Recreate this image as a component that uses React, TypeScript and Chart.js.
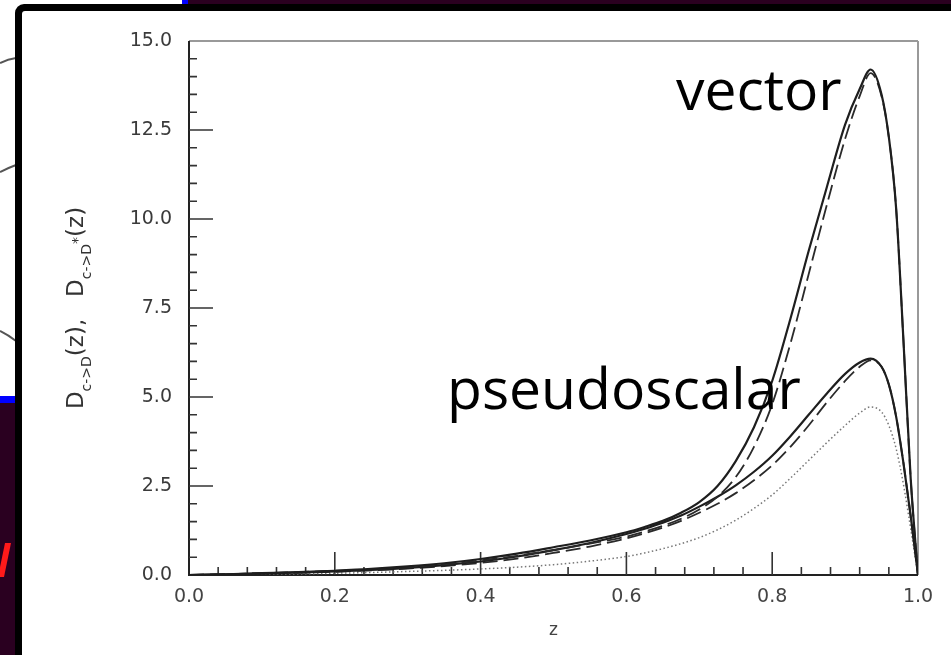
import React, { useEffect, useRef } from "react";
import { Chart, registerables } from "chart.js";

Chart.register(...registerables);

// Momentum fraction grid shared by every fragmentation curve
const zValues = [
  0, 0.05, 0.1, 0.15, 0.2, 0.25, 0.3, 0.35, 0.4, 0.45, 0.5, 0.55, 0.6, 0.625, 0.65,
  0.675, 0.7, 0.725, 0.75, 0.775, 0.8, 0.825, 0.85, 0.875, 0.9, 0.92, 0.935, 0.95,
  0.96, 0.97, 0.98, 0.99, 1.0,
];

// D_{c->D*}(z): vector meson
const vectorSolid = [
  0, 0.02, 0.05, 0.08, 0.12, 0.17, 0.24, 0.33, 0.45, 0.6, 0.78, 0.97, 1.2, 1.35, 1.52,
  1.75, 2.05, 2.5, 3.2, 4.15, 5.45, 7.2, 9.1, 10.9, 12.65, 13.65, 14.2, 13.5,
  12.3, 10.3, 6.6, 2.7, 0,
];
const vectorDashed = [
  0, 0.02, 0.05, 0.08, 0.12, 0.16, 0.22, 0.3, 0.41, 0.54, 0.7, 0.88, 1.08, 1.22, 1.38,
  1.58, 1.84, 2.2, 2.75, 3.6, 4.8, 6.5, 8.45, 10.4, 12.25, 13.45, 14.1, 13.45,
  12.3, 10.3, 6.6, 2.7, 0,
];

// D_{c->D}(z): pseudoscalar meson
const pseudoSolid = [
  0, 0.02, 0.04, 0.07, 0.1, 0.14, 0.2, 0.28, 0.38, 0.52, 0.7, 0.9, 1.15, 1.3, 1.47,
  1.67, 1.92, 2.2, 2.52, 2.9, 3.35, 3.9, 4.5, 5.1, 5.65, 5.97, 6.08, 5.85,
  5.35, 4.45, 3.15, 1.65, 0,
];
const pseudoDashed = [
  0, 0.02, 0.04, 0.06, 0.09, 0.13, 0.18, 0.25, 0.34, 0.46, 0.62, 0.8, 1.03, 1.17, 1.33,
  1.52, 1.75, 2.0, 2.3, 2.66, 3.08, 3.6, 4.2, 4.85, 5.45, 5.85, 6.03, 5.85,
  5.35, 4.45, 3.15, 1.65, 0,
];
const pseudoDotted = [
  0, 0.01, 0.02, 0.03, 0.05, 0.07, 0.1, 0.13, 0.17, 0.22, 0.29, 0.39, 0.52, 0.62, 0.74,
  0.88, 1.05, 1.27, 1.54, 1.87, 2.25, 2.72, 3.22, 3.72, 4.2, 4.55, 4.72, 4.58,
  4.2, 3.55, 2.55, 1.3, 0,
];

const xTickStep = 0.2;
const xMinorStep = 0.04;
const yTickStep = 2.5;
const yMinorStep = 0.5;

const TICK_FONT = "DejaVu Sans";

const toPoints = (ys: number[]) => zValues.map((z, i) => ({ x: z, y: ys[i] }));

// Slide backdrop, black panel frame and a few stray marks around the figure
const backdropPlugin = {
  id: "backdrop",
  beforeDraw(chart: any) {
    const ctx = chart.ctx as CanvasRenderingContext2D;
    const W = chart.width;
    const H = chart.height;
    ctx.save();
    ctx.fillStyle = "#2a0020";
    ctx.fillRect(0, 0, W, H);
    ctx.fillStyle = "#ffffff";
    ctx.fillRect(0, 0, 182, 397);
    ctx.fillStyle = "#0000ff";
    ctx.fillRect(182, 0, 6, 5);
    ctx.fillRect(0, 396, 16, 7);

    // partial grey arcs peeking out on the left
    ctx.strokeStyle = "#555";
    ctx.lineWidth = 2;
    ctx.beginPath();
    ctx.moveTo(0, 63);
    ctx.quadraticCurveTo(8, 59, 16, 58);
    ctx.moveTo(0, 172);
    ctx.quadraticCurveTo(8, 168, 16, 165);
    ctx.moveTo(0, 331);
    ctx.quadraticCurveTo(8, 335, 16, 341);
    ctx.stroke();

    // red glyph fragment
    ctx.fillStyle = "#ff1a1a";
    ctx.beginPath();
    ctx.moveTo(5, 543);
    ctx.lineTo(11, 543);
    ctx.lineTo(4, 577);
    ctx.lineTo(-2, 577);
    ctx.closePath();
    ctx.fill();

    // black frame and white panel
    ctx.fillStyle = "#000000";
    ctx.beginPath();
    ctx.roundRect(15, 4, W + 40, H + 40, 9);
    ctx.fill();
    ctx.fillStyle = "#ffffff";
    ctx.beginPath();
    ctx.roundRect(22, 11, W + 40, H + 40, 3);
    ctx.fill();
    ctx.restore();
  },
};

// Box, inward tick marks, axis title with subscripts and curve labels
const framePlugin = {
  id: "frame",
  beforeDatasetsDraw(chart: any) {
    const ctx = chart.ctx as CanvasRenderingContext2D;
    const { left, right, top, bottom } = chart.chartArea;
    const xs = chart.scales.x;
    const ys = chart.scales.y;
    ctx.save();
    ctx.lineCap = "butt";

    ctx.strokeStyle = "#777";
    ctx.lineWidth = 1.5;
    ctx.beginPath();
    ctx.moveTo(left, top);
    ctx.lineTo(right, top);
    ctx.stroke();
    ctx.strokeStyle = "#999";
    ctx.lineWidth = 2;
    ctx.beginPath();
    ctx.moveTo(right, top);
    ctx.lineTo(right, bottom);
    ctx.stroke();

    ctx.strokeStyle = "#222";
    ctx.lineWidth = 2;
    ctx.beginPath();
    ctx.moveTo(left, top);
    ctx.lineTo(left, bottom);
    ctx.lineTo(right, bottom);
    ctx.stroke();

    ctx.lineWidth = 1.6;
    ctx.strokeStyle = "#333";
    ctx.beginPath();
    const yMin = ys.min as number;
    const yMax = ys.max as number;
    const nY = Math.round((yMax - yMin) / yMinorStep);
    for (let i = 1; i < nY; i++) {
      const v = yMin + i * yMinorStep;
      const py = ys.getPixelForValue(v);
      const major = Math.abs(v / yTickStep - Math.round(v / yTickStep)) < 1e-6;
      ctx.moveTo(left, py);
      ctx.lineTo(left + (major ? 24 : 8), py);
    }
    const xMin = xs.min as number;
    const xMax = xs.max as number;
    const nX = Math.round((xMax - xMin) / xMinorStep);
    for (let i = 1; i < nX; i++) {
      const v = xMin + i * xMinorStep;
      const px = xs.getPixelForValue(v);
      const major = Math.abs(v / xTickStep - Math.round(v / xTickStep)) < 1e-6;
      ctx.moveTo(px, bottom);
      ctx.lineTo(px, bottom - (major ? 23 : 8));
    }
    ctx.stroke();
    ctx.restore();
  },
  afterDatasetsDraw(chart: any) {
    const ctx = chart.ctx as CanvasRenderingContext2D;
    const xs = chart.scales.x;
    const ys = chart.scales.y;
    ctx.save();

    // rotated y-axis title: D_{c->D}(z),  D_{c->D*}(z)
    const big = `23px "${TICK_FONT}"`;
    const small = `14px "${TICK_FONT}"`;
    const parts: { t: string; f: string; dy: number }[] = [
      { t: "D", f: big, dy: 0 },
      { t: "c->D", f: small, dy: 8 },
      { t: "(z),   ", f: big, dy: 0 },
      { t: "D", f: big, dy: 0 },
      { t: "c->D", f: small, dy: 8 },
      { t: "*", f: small, dy: -1 },
      { t: "(z)", f: big, dy: 0 },
    ];
    let total = 0;
    const widths = parts.map((p) => {
      ctx.font = p.f;
      const w = ctx.measureText(p.t).width;
      total += w;
      return w;
    });
    const centerY = (ys.top + ys.bottom) / 2;
    ctx.translate(74, centerY);
    ctx.rotate(-Math.PI / 2);
    ctx.fillStyle = "#333";
    ctx.textBaseline = "alphabetic";
    ctx.textAlign = "left";
    let cx = -total / 2;
    parts.forEach((p, i) => {
      ctx.font = p.f;
      ctx.fillText(p.t, cx, 9 + p.dy);
      cx += widths[i];
    });
    ctx.setTransform(1, 0, 0, 1, 0, 0);

    // curve labels
    ctx.fillStyle = "#000";
    ctx.font = `57px "Open Sans"`;
    ctx.textAlign = "left";
    ctx.textBaseline = "alphabetic";
    ctx.fillText("vector", xs.getPixelForValue(0.668), ys.getPixelForValue(13.05));
    ctx.fillText("pseudoscalar", xs.getPixelForValue(0.354), ys.getPixelForValue(4.66));
    ctx.restore();
  },
};

export default function App() {
  const canvasRef = useRef<HTMLCanvasElement | null>(null);

  useEffect(() => {
    if (!canvasRef.current) return;
    const solid = { borderColor: "#1e1e1e", borderWidth: 2.2, borderDash: [] as number[] };
    const dashed = { borderColor: "#2a2a2a", borderWidth: 1.8, borderDash: [15, 6] };
    const dotted = { borderColor: "#777", borderWidth: 1.5, borderDash: [1.5, 2.5] };
    const chart = new Chart(canvasRef.current, {
      type: "line",
      data: {
        datasets: [
          { label: "vector", data: toPoints(vectorSolid), ...solid },
          { label: "vector (dashed)", data: toPoints(vectorDashed), ...dashed },
          { label: "pseudoscalar", data: toPoints(pseudoSolid), ...solid },
          { label: "pseudoscalar (dashed)", data: toPoints(pseudoDashed), ...dashed },
          { label: "pseudoscalar (dotted)", data: toPoints(pseudoDotted), ...dotted },
        ],
      },
      options: {
        animation: false,
        responsive: false,
        layout: { padding: { left: 0, top: 41, right: 33, bottom: 0 } },
        elements: {
          point: { radius: 0 },
          line: { cubicInterpolationMode: "monotone", fill: false },
        },
        plugins: {
          legend: { display: false },
          tooltip: { enabled: false },
        },
        scales: {
          x: {
            type: "linear",
            min: 0,
            max: 1,
            afterFit: (s: any) => {
              s.height = 80;
            },
            grid: { display: false, drawTicks: false },
            border: { display: false },
            ticks: {
              stepSize: xTickStep,
              autoSkip: false,
              maxRotation: 0,
              padding: 11,
              color: "#444",
              font: { family: TICK_FONT, size: 19 },
              callback: (v: any) => Number(v).toFixed(1),
            },
            title: {
              display: true,
              text: "z",
              color: "#444",
              font: { family: TICK_FONT, size: 17 },
              padding: { top: 0, bottom: 14 },
            },
          },
          y: {
            type: "linear",
            min: 0,
            max: 15,
            afterFit: (s: any) => {
              s.width = 189;
            },
            grid: { display: false, drawTicks: false },
            border: { display: false },
            ticks: {
              stepSize: yTickStep,
              autoSkip: false,
              padding: 17,
              color: "#3a3a3a",
              font: { family: TICK_FONT, size: 19 },
              callback: (v: any) => Number(v).toFixed(1),
            },
          },
        },
      },
      plugins: [backdropPlugin, framePlugin],
    } as any);
    return () => chart.destroy();
  }, []);

  return (
    <div style={{ position: "fixed", left: 0, top: 0, width: 951, height: 655 }}>
      <canvas ref={canvasRef} width={951} height={655} style={{ display: "block" }} />
    </div>
  );
}
